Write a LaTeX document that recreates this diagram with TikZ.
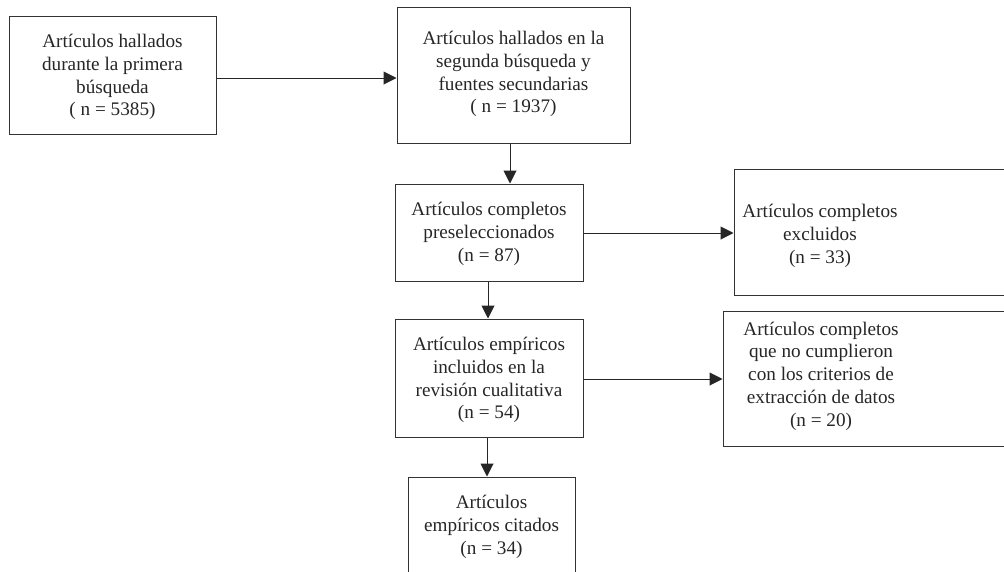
\documentclass[tikz,border=0pt]{standalone}
\usepackage{fontspec}
\setmainfont{Liberation Serif}
\usetikzlibrary{arrows.meta}
\begin{document}
\begin{tikzpicture}[x=1pt,y=-1pt,
  box/.style={draw=black!80,line width=1pt,inner sep=0pt,minimum width=#1},
  txt/.style={align=center,font=\fontsize{19.2}{22.8}\selectfont,text=black!85,inner sep=0pt},
  arr/.style={draw=black!85,line width=1pt,-{Triangle[length=13pt,width=13pt]}}]
\useasboundingbox (0,0) rectangle (1004,571);
\node[box=207pt,minimum height=118pt] (A) at (112.5,75) {};
\node[txt] (At) at (112.5,77) {Artículos hallados\\durante la primera\\búsqueda\\( n = 5385)};
\node[box=233pt,minimum height=136pt] (B) at (513.5,75) {};
\node[txt] (Bt) at (513.5,74) {Artículos hallados en la\\segunda búsqueda y\\fuentes secundarias\\( n = 1937)};
\node[box=188pt,minimum height=97pt] (C) at (489,232.5) {};
\node[txt] (Ct) at (489,234) {Artículos completos\\preseleccionados\\(n = 87)};
\node[box=276pt,minimum height=126pt] (D) at (872,232) {};
\node[txt] (Dt) at (820,236) {Artículos completos\\excluidos\\(n = 33)};
\node[box=188pt,minimum height=118pt] (E) at (489,378) {};
\node[txt] (Et) at (489,380) {Artículos empíricos\\incluidos en la\\revisión cualitativa\\(n = 54)};
\node[box=287pt,minimum height=135pt] (F) at (866.5,378.5) {};
\node[txt] (Ft) at (821,376) {Artículos completos\\que no cumplieron\\con los criterios de\\extracción de datos\\(n = 20)};
\node[box=167pt,minimum height=98pt] (G) at (491.5,526) {};
\node[txt] (Gt) at (491.5,527) {Artículos\\empíricos citados\\(n = 34)};
\draw[arr] (A.east |- 0,78) -- (B.west |- 0,78);
\draw[arr] (B.south -| 510,0) -- (C.north -| 510,0);
\draw[arr] (C.east |- 0,233) -- (D.west |- 0,233);
\draw[arr] (C.south -| 488,0) -- (E.north -| 488,0);
\draw[arr] (E.east |- 0,379) -- (F.west |- 0,379);
\draw[arr] (E.south -| 487,0) -- (G.north -| 487,0);
\end{tikzpicture}
\end{document}
